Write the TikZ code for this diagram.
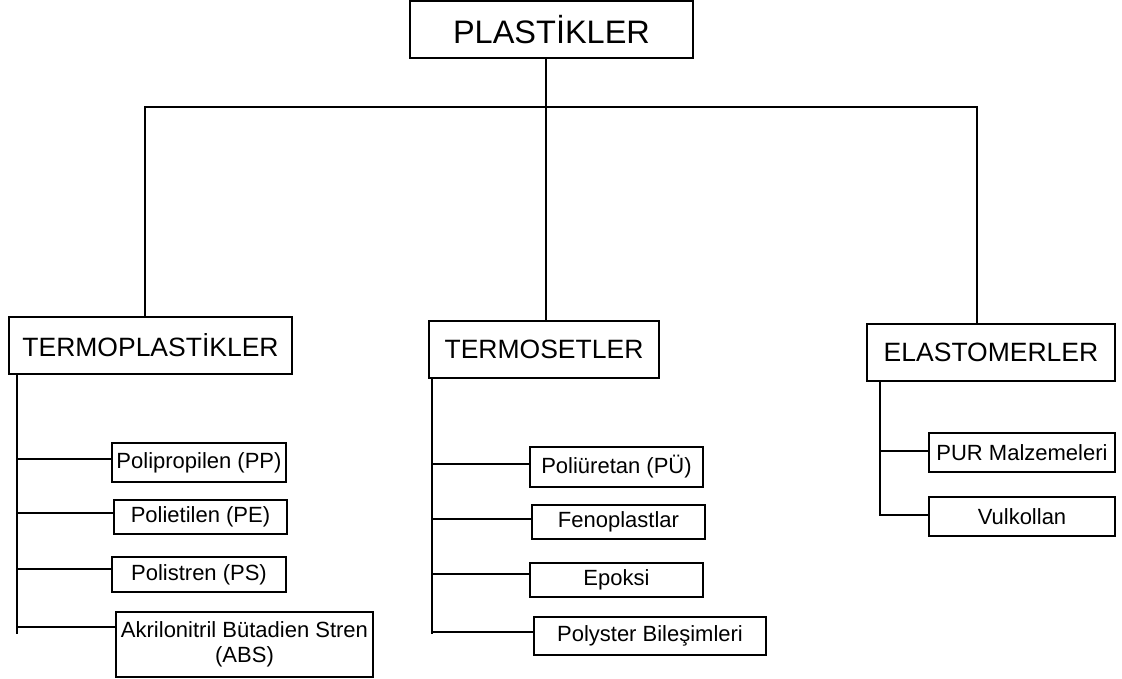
\documentclass[tikz,border=0pt]{standalone}
\usepackage{fontspec}
\setmainfont{Liberation Sans}
\usepackage{tikz}

\tikzset{
  kutu/.style={draw, line width=1.3pt, inner sep=0pt, align=center},
  anakutu/.style={kutu, font=\fontsize{32.5}{36}\selectfont},
  katkutu/.style={kutu, font=\fontsize{26.5}{30}\selectfont},
  altkutu/.style={kutu, font=\fontsize{22}{25.5}\selectfont},
  hat/.style={line width=1.3pt, line cap=rect}
}

\begin{document}
\begin{tikzpicture}[x=1pt,y=-1pt]
\useasboundingbox (0,0) rectangle (1122,679);
%
\node[anakutu, minimum width=283pt, minimum height=57pt] (plast) at (551.5,29.5) {PLASTİKLER};
%
\node[katkutu, minimum width=283pt, minimum height=57pt] (tplast) at (150.5,345.5) {TERMOPLASTİKLER};
\node[katkutu, minimum width=230pt, minimum height=57pt] (tset) at (544,349.5) {TERMOSETLER};
\node[katkutu, minimum width=248pt, minimum height=57pt] (elast) at (991,352.5) {ELASTOMERLER};
%
\node[altkutu, minimum width=174pt, minimum height=39pt] (pp) at (199,462.5) {Polipropilen (PP)};
\node[altkutu, minimum width=173pt, minimum height=34pt] (pe) at (200.5,517) {Polietilen (PE)};
\node[altkutu, minimum width=174pt, minimum height=35pt] (ps) at (199,574.5) {Polistren (PS)};
\node[altkutu, minimum width=257pt, minimum height=65pt] (abs) at (244.5,644.5) {Akrilonitril Bütadien Stren\\(ABS)};
%
\node[altkutu, minimum width=173pt, minimum height=40pt] (pu) at (616.5,467) {Poliüretan (PÜ)};
\node[altkutu, minimum width=173pt, minimum height=34pt] (feno) at (618.5,522) {Fenoplastlar};
\node[altkutu, minimum width=173pt, minimum height=34pt] (epoksi) at (616.5,580) {Epoksi};
\node[altkutu, minimum width=232pt, minimum height=38pt] (polyster) at (650,636) {Polyster Bileşimleri};
%
\node[altkutu, minimum width=186pt, minimum height=39pt] (pur) at (1022,452.5) {PUR Malzemeleri};
\node[altkutu, minimum width=186pt, minimum height=39pt] (vulk) at (1022,516.5) {Vulkollan};
%
\coordinate (bl) at (145,107);
\coordinate (bm) at (546,107);
\coordinate (br) at (977,107);
%
\coordinate (tp1) at (17,459);
\coordinate (tp2) at (17,513);
\coordinate (tp3) at (17,569);
\coordinate (tp4) at (17,627);
\coordinate (tpe) at (17,633);
\coordinate (ts1) at (432,464);
\coordinate (ts2) at (432,519);
\coordinate (ts3) at (432,574);
\coordinate (ts4) at (432,632);
\coordinate (tse) at (432,633);
\coordinate (el1) at (880,451);
\coordinate (el2) at (880,515);
%
\draw[hat] (bl) -- (br);
\draw[hat] (bm |- plast.south) -- (bm |- tset.north);
\draw[hat] (bl) -- (bl |- tplast.north);
\draw[hat] (br) -- (br |- elast.north);
%
\draw[hat] (tp1 |- tplast.south) -- (tpe);
\draw[hat] (tp1) -- (tp1 -| pp.west);
\draw[hat] (tp2) -- (tp2 -| pe.west);
\draw[hat] (tp3) -- (tp3 -| ps.west);
\draw[hat] (tp4) -- (tp4 -| abs.west);
%
\draw[hat] (ts1 |- tset.south) -- (tse);
\draw[hat] (ts1) -- (ts1 -| pu.west);
\draw[hat] (ts2) -- (ts2 -| feno.west);
\draw[hat] (ts3) -- (ts3 -| epoksi.west);
\draw[hat] (ts4) -- (ts4 -| polyster.west);
%
\draw[hat] (el1 |- elast.south) -- (el2);
\draw[hat] (el1) -- (el1 -| pur.west);
\draw[hat] (el2) -- (el2 -| vulk.west);
%
\end{tikzpicture}
\end{document}
